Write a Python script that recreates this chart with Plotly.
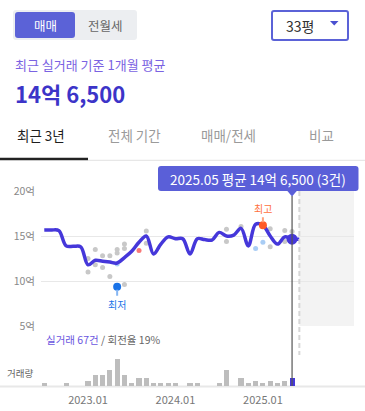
import plotly.graph_objects as go

W, H = 365, 411

# ---------------- data ----------------
months = ["2022.07", "2022.08", "2022.09", "2022.10", "2022.11", "2022.12",
          "2023.01", "2023.02", "2023.03", "2023.04", "2023.05", "2023.06",
          "2023.07", "2023.08", "2023.09", "2023.10", "2023.11", "2023.12",
          "2024.01", "2024.02", "2024.03", "2024.04", "2024.05", "2024.06",
          "2024.07", "2024.08", "2024.09", "2024.10", "2024.11", "2024.12",
          "2025.01", "2025.02", "2025.03", "2025.04", "2025.05"]
# monthly average price (억)
avg_price = [15.67, 15.67, 15.6, 13.9, 13.85, 13.8,
             11.8, 12.3, 12.2, 12.1, 12.0, 12.6,
             13.3, 14.3, 15.0, 13.0, 14.1, 14.9,
             14.7, 14.7, 13.0, 14.7, 14.6, 14.55,
             15.4, 15.0, 15.1, 15.85, 13.9, 16.3,
             16.2, 15.0, 14.1, 14.9, 14.65]
# monthly number of deals
volume = [1, 0, 0, 1, 0, 0,
          2, 4, 4, 6, 10, 4,
          1, 3, 3, 1, 1, 1,
          1, 0, 1, 1, 0, 0,
          1, 6, 0, 3, 1, 2,
          1, 2, 1, 2, 3]
# individual deals (visible dots)
deal_month = ["2023.01", "2023.01", "2023.02", "2023.02", "2023.03", "2023.03",
              "2023.04", "2023.04", "2023.05", "2023.05", "2023.05", "2023.05",
              "2023.06", "2023.06", "2023.06", "2023.08", "2023.09", "2023.09",
              "2024.08", "2024.08", "2024.10", "2024.12", "2025.01", "2025.01",
              "2025.02", "2025.02", "2025.04", "2025.04", "2025.05"]
deal_price = [12.5, 11.0, 13.5, 11.8, 12.8, 11.5,
              12.8, 10.5, 13.5, 13.1, 11.9, 9.35,
              14.1, 13.6, 9.6, 13.4, 15.55, 14.2,
              15.75, 14.4, 16.05, 13.6, 14.3, 16.2,
              15.8, 13.8, 15.6, 14.4, 15.5]
deal_kind = ["normal", "normal", "normal", "normal", "normal", "normal",
             "normal", "normal", "normal", "normal", "direct", "normal",
             "normal", "normal", "normal", "flag", "normal", "normal",
             "normal", "normal", "normal", "direct", "direct", "normal",
             "normal", "normal", "normal", "normal", "normal"]
xtick_labels = ["2023.01", "2024.01", "2025.01"]
ytick_vals = [5, 10, 15, 20]
ytick_labels = ["5억", "10억", "15억", "20억"]
tabs = ["최근 3년", "전체 기간", "매매/전세", "비교"]
deal_types = ["매매", "전월세"]
size_label = "33평"
turnover_pct = 19

# ---------------- helpers ----------------
FONT = "Noto Sans CJK KR, Noto Sans, sans-serif"
LINE_C = "#4537da"
ACCENT = "#5a5fd8"
idx = {m: i for i, m in enumerate(months)}
n = len(months)


def px(x):
    return x / W


def py(y):
    return 1 - y / H


def fmt_price(p):
    eok = int(p)
    man = int(round((p - eok) * 10000))
    return f"{eok}억 {man:,}" if man else f"{eok}억"


def rrect(x0, y0, x1, y1, r):
    def p(x, y):
        return f"{px(x):.5f},{py(y):.5f}"
    return ("M" + p(x0 + r, y0) + " L" + p(x1 - r, y0) + " Q" + p(x1, y0) + " " + p(x1, y0 + r) +
            " L" + p(x1, y1 - r) + " Q" + p(x1, y1) + " " + p(x1 - r, y1) +
            " L" + p(x0 + r, y1) + " Q" + p(x0, y1) + " " + p(x0, y1 - r) +
            " L" + p(x0, y0 + r) + " Q" + p(x0, y0) + " " + p(x0 + r, y0) + " Z")


def txt(x, y, s, size, color, xanchor="left", bold=False):
    return dict(x=px(x), y=py(y), xref="paper", yref="paper", text=(f"<b>{s}</b>" if bold else s),
                showarrow=False, xanchor=xanchor, yanchor="middle",
                font=dict(family=FONT, size=size, color=color))


XR = [-0.45, 42.5]
XDOM = [px(41), px(354)]

fig = go.Figure()

# volume bars
bar_colors = ["#bdbdbd"] * (n - 1) + [LINE_C]
fig.add_trace(go.Bar(x=list(range(n)), y=volume, yaxis="y2", width=0.7,
                     marker=dict(color=bar_colors, line=dict(width=0)), showlegend=False))

# individual deals
lo = min(range(len(deal_price)), key=lambda k: deal_price[k])
hi = max(range(len(deal_price)), key=lambda k: deal_price[k])
kind_color = {"normal": "#c8c8c8", "direct": "#a9cdf5", "flag": "#f87878"}
for kind, col in kind_color.items():
    ks = [k for k in range(len(deal_price)) if deal_kind[k] == kind and k not in (lo, hi)]
    fig.add_trace(go.Scatter(x=[idx[deal_month[k]] for k in ks], y=[deal_price[k] for k in ks],
                             mode="markers", marker=dict(size=5, color=col), showlegend=False))

# average line (extended flat to current month)
fig.add_trace(go.Scatter(x=list(range(n)) + [n], y=avg_price + [avg_price[-1]], mode="lines",
                         line=dict(color=LINE_C, width=3.5, shape="spline", smoothing=1),
                         showlegend=False))
fig.add_trace(go.Scatter(x=[n - 1], y=[avg_price[-1]], mode="markers",
                         marker=dict(size=11, color=LINE_C), showlegend=False))

# lowest / highest deal markers
fig.add_trace(go.Scatter(x=[idx[deal_month[lo]]], y=[deal_price[lo]], mode="markers",
                         marker=dict(size=8, color="#1a73e8"), showlegend=False))
fig.add_trace(go.Scatter(x=[idx[deal_month[hi]]], y=[deal_price[hi]], mode="markers",
                         marker=dict(size=8, color="#ff5a26"), showlegend=False))

shapes = []
# future shaded area + dashed current-month line
shapes.append(dict(type="rect", xref="x", yref="paper", x0=n, x1=XR[1], y0=py(326), y1=py(191),
                   fillcolor="#f3f3f3", line=dict(width=0), layer="below"))
shapes.append(dict(type="line", xref="x", yref="paper", x0=n, x1=n, y0=py(191), y1=py(355),
                   line=dict(color="#d6d6d6", width=2, dash="5px,3px")))
# selected month vertical line
shapes.append(dict(type="line", xref="x", yref="paper", x0=n - 1, x1=n - 1, y0=py(196), y1=py(386),
                   line=dict(color="#555555", width=1.2)))
# baseline
shapes.append(dict(type="line", xref="paper", yref="paper", x0=0, x1=1, y0=py(386.5), y1=py(386.5),
                   line=dict(color="#e8e8e8", width=2), layer="below"))
# segmented control
shapes.append(dict(type="path", xref="paper", yref="paper", path=rrect(13, 10, 137, 40, 3),
                   fillcolor="#eceef1", line=dict(width=0)))
shapes.append(dict(type="path", xref="paper", yref="paper", path=rrect(15, 12, 75, 38, 3),
                   fillcolor="#5b62d7", line=dict(width=0)))
# dropdown
shapes.append(dict(type="path", xref="paper", yref="paper", path=rrect(272, 11, 348, 40, 2),
                   fillcolor="white", line=dict(color="#5b62d7", width=2)))
shapes.append(dict(type="path", xref="paper", yref="paper",
                   path=f"M{px(330)},{py(21)} L{px(338.5)},{py(21)} L{px(334.25)},{py(25.5)} Z",
                   fillcolor="#4a50d0", line=dict(width=0)))
# tabs underline
shapes.append(dict(type="line", xref="paper", yref="paper", x0=px(88), x1=1, y0=py(160.3), y1=py(160.3),
                   line=dict(color="#e2e2e2", width=1)))
shapes.append(dict(type="line", xref="paper", yref="paper", x0=0, x1=px(88), y0=py(159), y1=py(159),
                   line=dict(color="#222222", width=2.5)))
# tooltip box + pointer
shapes.append(dict(type="path", xref="paper", yref="paper", path=rrect(158, 166, 358.5, 191, 3),
                   fillcolor=ACCENT, line=dict(width=0)))
shapes.append(dict(type="path", xref="x", yref="paper",
                   path=f"M{n - 1.7},{py(190.5)} L{n - 0.3},{py(190.5)} L{n - 1},{py(196.5)} Z",
                   fillcolor=ACCENT, line=dict(width=0)))

last_price = avg_price[-1]
ann = [
    txt(45, 25, deal_types[0], 12.5, "white", "center"),
    txt(105, 25, deal_types[1], 12.5, "#666666", "center"),
    txt(300, 26, size_label, 14, "#333333", "center"),
    txt(13, 64, "최근 실거래 기준 1개월 평균", 13, "#7a62e2"),
    txt(13, 93, fmt_price(last_price), 22, "#3c34c8", bold=True),
    txt(41, 135, tabs[0], 13.5, "#1e1e1e", "center"),
    txt(134, 135, tabs[1], 13.5, "#9a9a9a", "center"),
    txt(228.5, 135, tabs[2], 13.5, "#9a9a9a", "center"),
    txt(321.5, 135, tabs[3], 13.5, "#9a9a9a", "center"),
    txt(258.3, 178.5, f"{months[-1]} 평균 {fmt_price(last_price)} ({volume[-1]}건)", 13.5, "white", "center"),
    txt(5, 373, "거래량", 9.5, "#666666"),
    dict(x=px(44), y=py(339.5), xref="paper", yref="paper", showarrow=False, xanchor="left",
         yanchor="middle", font=dict(family=FONT, size=10.5, color="#666666"),
         text=f"<span style='color:#6a56e0'>실거래 {sum(volume)}건</span> / 회전율 {turnover_pct}%"),
    dict(x=idx[deal_month[lo]], y=deal_price[lo], xref="x", yref="y", text="최저", showarrow=True,
         ax=0, ay=18, arrowhead=0, arrowwidth=2, arrowcolor="#86b6f2", standoff=3,
         font=dict(family=FONT, size=10, color="#1a73e8")),
    dict(x=idx[deal_month[hi]], y=deal_price[hi], xref="x", yref="y", text="최고", showarrow=True,
         ax=0, ay=-17, arrowhead=0, arrowwidth=2, arrowcolor="#ffa27c", standoff=3,
         font=dict(family=FONT, size=10, color="#ff6f3c")),
]

fig.update_layout(
    width=W, height=H, autosize=False,
    margin=dict(l=0, r=0, t=0, b=0, autoexpand=False),
    paper_bgcolor="white", plot_bgcolor="rgba(0,0,0,0)",
    showlegend=False, hovermode=False, bargap=0,
    font=dict(family=FONT),
    xaxis=dict(domain=XDOM, range=XR, anchor="y2", showgrid=False, zeroline=False, showline=False,
               automargin=False,
               tickmode="array", tickvals=[idx[m] for m in xtick_labels], ticktext=xtick_labels,
               ticks="", ticklabelstandoff=6, tickfont=dict(family=FONT, size=11, color="#777777")),
    yaxis=dict(domain=[py(326), py(191)], range=[5, 20], anchor="x", showgrid=True,
               gridcolor="#e8e8e8", gridwidth=1, zeroline=False, showline=False, automargin=False,
               tickmode="array", tickvals=ytick_vals, ticktext=ytick_labels, ticks="",
               ticklabelstandoff=5, tickfont=dict(family=FONT, size=10.5, color="#888888")),
    yaxis2=dict(domain=[py(386), py(346)], range=[0, 15], anchor="x", showgrid=False,
                zeroline=False, showline=False, showticklabels=False, automargin=False),
    shapes=shapes, annotations=ann,
)

fig.write_html("out.html", config={"displayModeBar": False},
               post_script="document.body.style.margin='0px';document.body.style.overflow='hidden';")
